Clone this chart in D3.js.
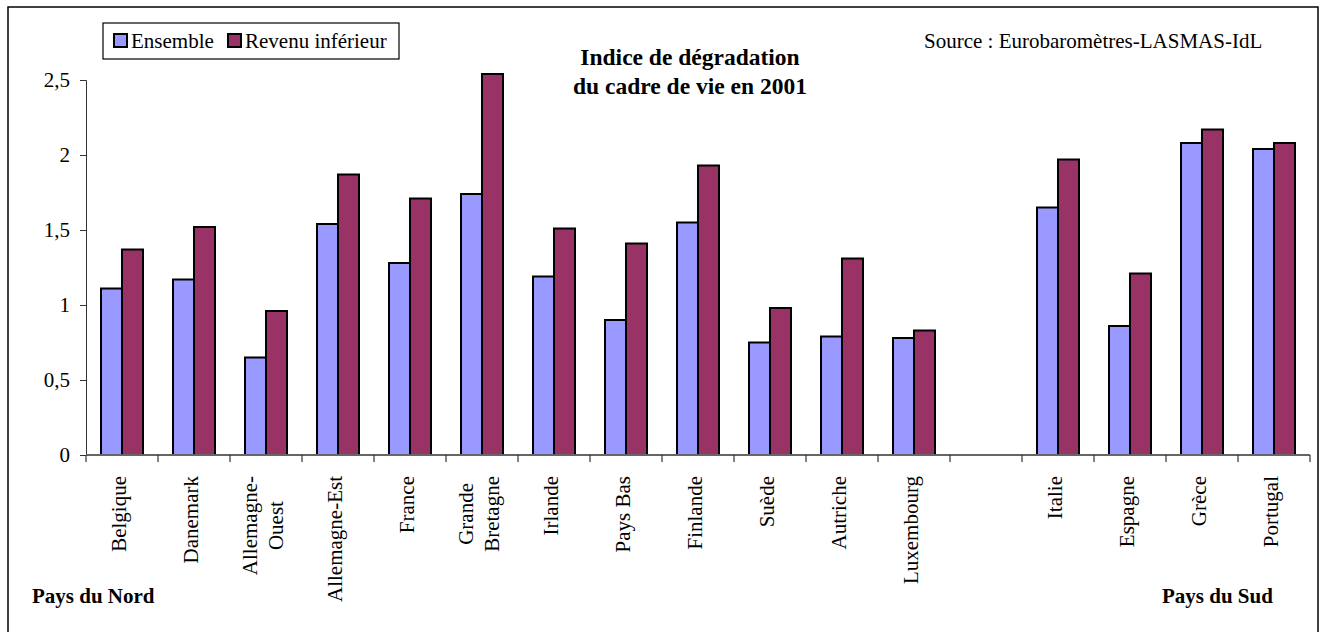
<!DOCTYPE html>
<html>
<head>
<meta charset="utf-8">
<script src="https://cdn.jsdelivr.net/npm/d3@7"></script>
<style>
  body { margin: 0; background: #fff; }
  text { font-family: "Liberation Serif", "Times New Roman", serif; fill: #000; }
</style>
</head>
<body>
<svg id="chart" width="1325" height="632"></svg>
<script>
// pays du nord / pays du sud, separated by an empty slot
var paysNord = ["Belgique", "Danemark", "Allemagne-\nOuest", "Allemagne-Est", "France", "Grande\nBretagne",
                "Irlande", "Pays Bas", "Finlande", "Suède", "Autriche", "Luxembourg"];
var paysSud = ["Italie", "Espagne", "Grèce", "Portugal"];

var ensemble =        [1.11, 1.17, 0.65, 1.54, 1.28, 1.74, 1.19, 0.90, 1.55, 0.75, 0.79, 0.78, 1.65, 0.86, 2.08, 2.04];
var revenuInferieur = [1.37, 1.52, 0.96, 1.87, 1.71, 2.54, 1.51, 1.41, 1.93, 0.98, 1.31, 0.83, 1.97, 1.21, 2.17, 2.08];

var seriesNames = ["Ensemble", "Revenu inférieur"];
var seriesColors = ["#9999ff", "#993366"];
var yTicks = [0, 0.5, 1, 1.5, 2, 2.5];

var svg = d3.select("#chart"),
    margin = {top: 80, right: 15, bottom: 177, left: 86},
    width = +svg.attr("width") - margin.left - margin.right,
    height = +svg.attr("height") - margin.top - margin.bottom;

var slots = paysNord.concat([""], paysSud);
var pays = paysNord.concat(paysSud);
var rows = pays.map(function(p, i) { return {pays: p, values: [ensemble[i], revenuInferieur[i]]}; });

var x0 = d3.scaleBand().domain(slots).range([0, width]).padding(0);
var x1 = d3.scaleBand().domain(seriesNames)
    .range([x0.bandwidth() / 2 - 21, x0.bandwidth() / 2 + 21]);
var y = d3.scaleLinear().domain([0, 2.5]).range([height, 0]);

// outer frame
svg.append("rect")
    .attr("x", 8).attr("y", 7)
    .attr("width", 1310).attr("height", 640)
    .attr("fill", "none").attr("stroke", "#000").attr("stroke-width", 1.5);

var g = svg.append("g")
    .attr("transform", "translate(" + margin.left + "," + margin.top + ")");

// bars
var groups = g.selectAll(".pays")
  .data(rows)
  .enter().append("g")
    .attr("class", "pays")
    .attr("transform", function(d) { return "translate(" + x0(d.pays) + ",0)"; });

groups.selectAll("rect")
  .data(function(d) { return d.values.map(function(v, i) { return {serie: seriesNames[i], value: v, color: seriesColors[i]}; }); })
  .enter().append("rect")
    .attr("x", function(d) { return x1(d.serie); })
    .attr("y", function(d) { return y(d.value); })
    .attr("width", x1.bandwidth())
    .attr("height", function(d) { return height - y(d.value); })
    .attr("fill", function(d) { return d.color; })
    .attr("stroke", "#000")
    .attr("stroke-width", 2);

// y axis
var yAxis = g.append("g")
    .call(d3.axisLeft(y).tickValues(yTicks).tickSize(6).tickPadding(10)
      .tickFormat(function(d) { return String(d).replace(".", ","); }));
yAxis.select(".domain").attr("stroke", "#333");
yAxis.selectAll(".tick line").attr("stroke", "#333");
yAxis.selectAll("text").attr("font-size", 21).attr("font-family", "Liberation Serif");

// x axis: line + ticks on slot boundaries
var xAxis = g.append("g").attr("transform", "translate(0," + height + ")");
xAxis.append("line")
    .attr("x1", 0).attr("x2", width)
    .attr("stroke", "#666").attr("stroke-width", 2);
xAxis.selectAll(".bound")
  .data(slots.concat([null]))
  .enter().append("line")
    .attr("class", "bound")
    .attr("x1", function(d) { return d === null ? width : x0(d); })
    .attr("x2", function(d) { return d === null ? width : x0(d); })
    .attr("y1", 0).attr("y2", 7)
    .attr("stroke", "#333").attr("stroke-width", 1.2);

// category labels, rotated, lines centered on the longest one
var labels = xAxis.selectAll(".lab")
  .data(pays)
  .enter().append("g")
    .attr("class", "lab");

labels.each(function(p) {
  var lines = p.split("\n");
  var cx = x0(p) + x0.bandwidth() / 2;
  var t = d3.select(this).append("text")
      .attr("font-size", 21)
      .attr("text-anchor", "middle");
  lines.forEach(function(l, i) {
    t.append("tspan")
        .attr("x", 0)
        .attr("y", 4 + (i - (lines.length - 1) / 2) * 26)
        .text(l);
  });
  var len = d3.max(t.selectAll("tspan").nodes(), function(n) { return n.getComputedTextLength(); });
  t.attr("transform", "translate(" + cx + "," + (21 + len / 2) + ") rotate(-90)");
});

// title
var title = svg.append("text")
    .attr("x", 690).attr("y", 65)
    .attr("text-anchor", "middle")
    .attr("font-size", 23.5)
    .attr("font-weight", "bold");
title.append("tspan").attr("x", 690).text("Indice de dégradation");
title.append("tspan").attr("x", 690).attr("dy", 29).text("du cadre de vie en 2001");

svg.append("text")
    .attr("x", 924).attr("y", 48)
    .attr("font-size", 21)
    .text("Source : Eurobaromètres-LASMAS-IdL");

// group captions
svg.append("text").attr("x", 32).attr("y", 603)
    .attr("font-size", 21).attr("font-weight", "bold").text("Pays du Nord");
svg.append("text").attr("x", 1162).attr("y", 603)
    .attr("font-size", 21).attr("font-weight", "bold").text("Pays du Sud");

// legend
var legend = svg.append("g").attr("transform", "translate(103,23)");
legend.append("rect")
    .attr("width", 296).attr("height", 36)
    .attr("fill", "#fff").attr("stroke", "#000").attr("stroke-width", 1.2);
var item = legend.selectAll(".item")
  .data(seriesNames)
  .enter().append("g")
    .attr("class", "item")
    .attr("transform", function(d, i) { return "translate(" + (i === 0 ? 11 : 125) + ",0)"; });
item.append("rect")
    .attr("y", 11).attr("width", 13).attr("height", 13)
    .attr("fill", function(d, i) { return seriesColors[i]; })
    .attr("stroke", "#000").attr("stroke-width", 2);
item.append("text")
    .attr("x", 17).attr("y", 25)
    .attr("font-size", 21)
    .text(function(d) { return d; });
</script>
</body>
</html>
